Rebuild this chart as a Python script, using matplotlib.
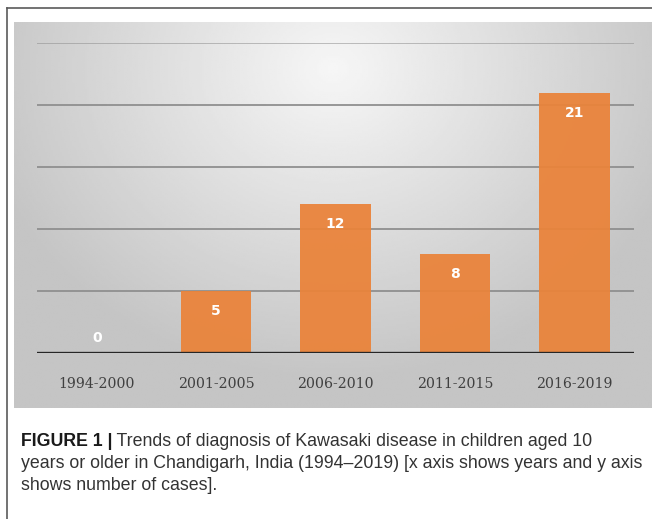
import numpy as np
import matplotlib.pyplot as plt
from matplotlib.lines import Line2D

# data
periods = ['1994-2000', '2001-2005', '2006-2010', '2011-2015', '2016-2019']
cases = [0, 5, 12, 8, 21]
grid_levels = [5, 10, 15, 20, 25]

caption_bold = 'FIGURE 1 |'
caption_lines = [' Trends of diagnosis of Kawasaki disease in children aged 10',
                 'years or older in Chandigarh, India (1994\u20132019) [x axis shows years and y axis',
                 'shows number of cases].']

BAR_COLOR = '#EA833A'
W, H = 652, 519


def fx(px):
    return px / W


def fy(py):
    return 1 - py / H


fig = plt.figure(figsize=(W / 100, H / 100), dpi=100)
fig.patch.set_facecolor('white')

# outer frame of the figure box (only top and left edges show)
fig.add_artist(Line2D([fx(7), 1], [fy(8), fy(8)], color='#5a5a5a', lw=1.2))
fig.add_artist(Line2D([fx(7), fx(7)], [fy(8), 0], color='#5a5a5a', lw=1.2))

# gray gradient panel behind the chart
bg = fig.add_axes([fx(14), fy(408), fx(652 - 14), (408 - 22) / H])
yy, xx = np.mgrid[0:1:200j, 0:1:300j]
dist = np.sqrt(((xx - 0.5) / 0.7) ** 2 + ((yy - 0.12) / 1.0) ** 2)
shade = np.clip(0.965 - 0.24 * dist, 0.77, 0.965)
bg.imshow(shade, cmap='gray', vmin=0, vmax=1, aspect='auto', extent=[0, 1, 1, 0])
bg.axis('off')

# main chart
ax = fig.add_axes([fx(37), fy(353), fx(634 - 37), (353 - 43) / H])
ax.patch.set_alpha(0)
x = np.arange(len(periods))
ax.bar(x, cases, width=0.59, color=BAR_COLOR, alpha=0.94, zorder=3)
for g in grid_levels:
    ax.axhline(g, color='#8f8f8f', lw=1.3, zorder=1, alpha=0.6 if g == 25 else 1)
ax.axhline(0, color='#262626', lw=2.4, zorder=4)
ax.set_xlim(-0.5, len(periods) - 0.5)
ax.set_ylim(0, 25)
for s in ax.spines.values():
    s.set_visible(False)
ax.set_yticks([])
ax.set_xticks(x)
ax.set_xticklabels(periods, family='DejaVu Serif', fontsize=10.2, color='#404040')
ax.tick_params(axis='x', length=0, pad=17)

for xi, v in zip(x, cases):
    off = -20 if v > 0 else 15
    ax.annotate(str(v), (xi, v), xytext=(0, off), textcoords='offset pixels',
                ha='center', va='center', color='white', fontsize=10,
                fontweight='bold', zorder=5)

# caption
cap_font = dict(fontsize=12.8, family='Liberation Sans', color='#333333', va='baseline')
t = fig.text(fx(21), fy(446), caption_bold, fontweight='bold',
             **dict(cap_font, color='#1a1a1a'))
bg.annotate(caption_lines[0], xy=(1, 0), xycoords=t, ha='left',
            annotation_clip=False, **dict(cap_font, va='bottom'))
fig.text(fx(21), fy(468), caption_lines[1], **cap_font)
fig.text(fx(21), fy(490), caption_lines[2], **cap_font)

fig.savefig('out.png', dpi=100)
